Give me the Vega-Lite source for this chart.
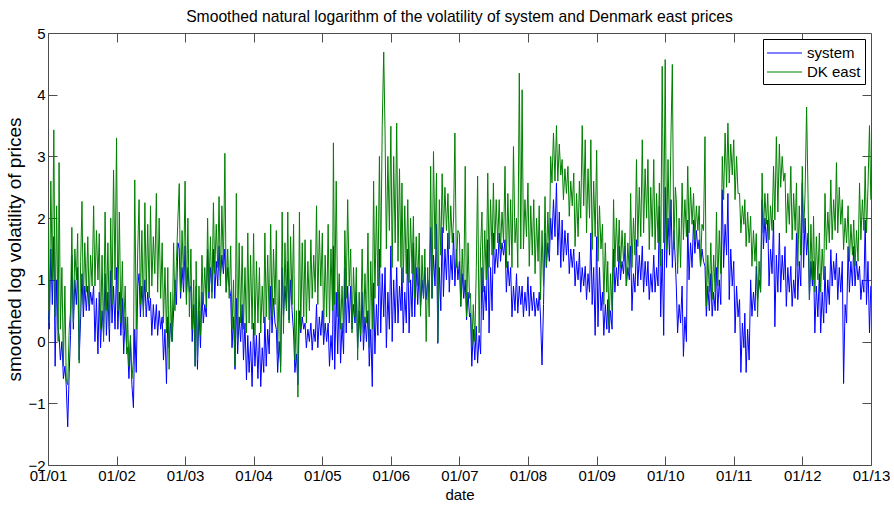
{
"$schema": "https://vega.github.io/schema/vega-lite/v6.json",
"width": 823,
"height": 432,
"autosize": {"type": "none"},
"padding": {"left": 48, "top": 33, "right": 23, "bottom": 40},
"background": "white",
"config": {
  "font": "Liberation Sans",
  "view": {"stroke": "#4d4d4d", "strokeWidth": 1},
  "axis": {"grid": false, "domain": false, "labelFont": "Liberation Sans", "labelFontSize": 15, "labelColor": "black", "tickColor": "#4d4d4d", "tickWidth": 1, "titleFont": "Liberation Sans", "titleFontWeight": "normal", "titleColor": "black"},
  "legend": {"orient": "top-right", "offset": 6, "padding": 4, "strokeColor": "black", "fillColor": "white", "cornerRadius": 0, "labelFont": "Liberation Sans", "labelFontSize": 15, "labelColor": "black", "symbolType": "M-1,-0.06H2.5V0.06H-1Z", "symbolSize": 400, "symbolStrokeWidth": 0, "rowPadding": 1, "labelOffset": 20}
},
"title": {"text": "Smoothed natural logarithm of the volatility of system and Denmark east prices", "font": "Liberation Sans", "fontSize": 15.7, "fontWeight": "normal", "color": "black", "anchor": "middle", "offset": 0},
"data": {"values": [
{"t":"2001-01-01","s":0.5,"e":1.9},{"t":"2001-01-08","s":0.2,"e":0.3},{"t":"2001-01-16","s":1.5,"e":2.6},{"t":"2001-01-24","s":0.6,"e":1.0},
{"t":"2001-02-01","s":1.7,"e":3.43},{"t":"2001-02-08","s":-0.4,"e":0.4},{"t":"2001-02-16","s":1.0,"e":2.2},{"t":"2001-02-24","s":0.2,"e":0.0},
{"t":"2001-03-01","s":0.1,"e":2.9},{"t":"2001-03-08","s":-0.3,"e":0.2},{"t":"2001-03-16","s":0.0,"e":1.2},{"t":"2001-03-24","s":-0.6,"e":-0.4},
{"t":"2001-04-01","s":-0.4,"e":0.9},{"t":"2001-04-08","s":-0.7,"e":-0.6},{"t":"2001-04-16","s":-1.38,"e":-0.7},{"t":"2001-04-24","s":-0.5,"e":0.2},
{"t":"2001-05-01","s":0.1,"e":0.5},{"t":"2001-05-08","s":1.4,"e":1.85},{"t":"2001-05-16","s":0.2,"e":0.3},{"t":"2001-05-24","s":1.0,"e":1.5},
{"t":"2001-06-01","s":0.6,"e":1.0},{"t":"2001-06-08","s":1.2,"e":1.75},{"t":"2001-06-16","s":-0.3,"e":-0.35},{"t":"2001-06-24","s":0.4,"e":1.3},
{"t":"2001-07-01","s":1.1,"e":2.27},{"t":"2001-07-08","s":0.4,"e":0.6},{"t":"2001-07-16","s":0.9,"e":1.6},{"t":"2001-07-24","s":0.5,"e":0.8},
{"t":"2001-08-01","s":0.9,"e":1.7},{"t":"2001-08-08","s":0.5,"e":0.6},{"t":"2001-08-16","s":0.8,"e":1.4},{"t":"2001-08-24","s":0.6,"e":0.9},
{"t":"2001-09-01","s":0.9,"e":2.2},{"t":"2001-09-08","s":0.0,"e":0.9},{"t":"2001-09-16","s":0.7,"e":1.8},{"t":"2001-09-24","s":-0.2,"e":1.0},
{"t":"2001-10-01","s":0.8,"e":1.75},{"t":"2001-10-08","s":-0.1,"e":0.2},{"t":"2001-10-16","s":0.5,"e":1.4},{"t":"2001-10-24","s":0.1,"e":0.0},
{"t":"2001-11-01","s":1.1,"e":2.1},{"t":"2001-11-08","s":0.1,"e":0.5},{"t":"2001-11-16","s":0.8,"e":1.6},{"t":"2001-11-24","s":0.0,"e":0.2},
{"t":"2001-12-01","s":1.15,"e":2.0},{"t":"2001-12-08","s":0.3,"e":0.6},{"t":"2001-12-16","s":0.9,"e":2.78},{"t":"2001-12-24","s":0.2,"e":1.0},
{"t":"2002-01-01","s":1.2,"e":3.3},{"t":"2002-01-08","s":0.2,"e":0.5},{"t":"2002-01-16","s":0.8,"e":2.1},{"t":"2002-01-24","s":0.1,"e":0.3},
{"t":"2002-02-01","s":0.7,"e":1.3},{"t":"2002-02-08","s":-0.2,"e":0.2},{"t":"2002-02-16","s":0.4,"e":0.9},{"t":"2002-02-24","s":-0.1,"e":-0.2},
{"t":"2002-03-01","s":-0.1,"e":0.4},{"t":"2002-03-08","s":-0.6,"e":-0.4},{"t":"2002-03-16","s":0.0,"e":0.1},{"t":"2002-03-24","s":-0.7,"e":-0.6},
{"t":"2002-04-01","s":-1.07,"e":-0.3},{"t":"2002-04-08","s":0.2,"e":2.62},{"t":"2002-04-16","s":-0.5,"e":0.2},{"t":"2002-04-24","s":0.9,"e":1.5},
{"t":"2002-05-01","s":1.1,"e":2.3},{"t":"2002-05-08","s":0.4,"e":0.6},{"t":"2002-05-16","s":0.9,"e":1.8},{"t":"2002-05-24","s":0.5,"e":0.4},
{"t":"2002-06-01","s":1.0,"e":2.25},{"t":"2002-06-08","s":0.4,"e":0.8},{"t":"2002-06-16","s":0.8,"e":1.9},{"t":"2002-06-24","s":0.5,"e":0.7},
{"t":"2002-07-01","s":0.7,"e":2.2},{"t":"2002-07-08","s":0.1,"e":0.9},{"t":"2002-07-16","s":0.6,"e":1.7},{"t":"2002-07-24","s":0.2,"e":1.1},
{"t":"2002-08-01","s":0.6,"e":2.4},{"t":"2002-08-08","s":0.1,"e":0.8},{"t":"2002-08-16","s":0.5,"e":2.0},{"t":"2002-08-24","s":0.2,"e":0.7},
{"t":"2002-09-01","s":0.4,"e":1.6},{"t":"2002-09-08","s":-0.3,"e":0.3},{"t":"2002-09-16","s":0.2,"e":1.2},{"t":"2002-09-24","s":-0.68,"e":0.14},
{"t":"2002-10-01","s":0.4,"e":1.2},{"t":"2002-10-08","s":-0.1,"e":-0.45},{"t":"2002-10-16","s":0.3,"e":0.8},{"t":"2002-10-24","s":0.0,"e":0.0},
{"t":"2002-11-01","s":0.5,"e":1.6},{"t":"2002-11-08","s":1.0,"e":0.5},{"t":"2002-11-16","s":0.6,"e":1.3},{"t":"2002-11-24","s":1.6,"e":2.0},
{"t":"2002-12-01","s":1.5,"e":2.56},{"t":"2002-12-08","s":0.7,"e":0.8},{"t":"2002-12-16","s":1.2,"e":1.8},{"t":"2002-12-24","s":0.8,"e":1.0},
{"t":"2003-01-01","s":1.55,"e":2.6},{"t":"2003-01-08","s":0.7,"e":0.6},{"t":"2003-01-16","s":1.2,"e":2.0},{"t":"2003-01-24","s":0.8,"e":0.4},
{"t":"2003-02-01","s":0.9,"e":1.5},{"t":"2003-02-08","s":0.0,"e":0.2},{"t":"2003-02-16","s":0.6,"e":1.0},{"t":"2003-02-24","s":-0.4,"e":-0.4},
{"t":"2003-03-01","s":0.9,"e":1.3},{"t":"2003-03-08","s":-0.45,"e":-0.3},{"t":"2003-03-16","s":0.5,"e":0.9},{"t":"2003-03-24","s":-0.1,"e":0.1},
{"t":"2003-04-01","s":0.8,"e":1.4},{"t":"2003-04-08","s":0.3,"e":0.6},{"t":"2003-04-16","s":0.6,"e":1.2},{"t":"2003-04-24","s":0.4,"e":0.55},
{"t":"2003-05-01","s":1.5,"e":2.0},{"t":"2003-05-08","s":0.7,"e":0.8},{"t":"2003-05-16","s":1.2,"e":1.7},{"t":"2003-05-24","s":0.8,"e":0.7},
{"t":"2003-06-01","s":1.5,"e":2.25},{"t":"2003-06-08","s":0.7,"e":1.1},{"t":"2003-06-16","s":1.3,"e":1.9},{"t":"2003-06-24","s":0.9,"e":1.2},
{"t":"2003-07-01","s":1.55,"e":2.35},{"t":"2003-07-08","s":1.0,"e":0.9},{"t":"2003-07-16","s":1.4,"e":2.2},{"t":"2003-07-24","s":1.1,"e":1.2},
{"t":"2003-08-01","s":1.5,"e":3.05},{"t":"2003-08-08","s":0.8,"e":0.8},{"t":"2003-08-16","s":1.2,"e":1.5},{"t":"2003-08-24","s":0.9,"e":0.7},
{"t":"2003-09-01","s":0.73,"e":1.55},{"t":"2003-09-08","s":-0.1,"e":0.2},{"t":"2003-09-16","s":0.4,"e":1.0},{"t":"2003-09-24","s":-0.45,"e":-0.4},
{"t":"2003-10-01","s":0.7,"e":2.4},{"t":"2003-10-08","s":-0.2,"e":0.0},{"t":"2003-10-16","s":0.4,"e":1.6},{"t":"2003-10-24","s":0.0,"e":0.3},
{"t":"2003-11-01","s":0.6,"e":1.55},{"t":"2003-11-08","s":-0.3,"e":0.2},{"t":"2003-11-16","s":0.3,"e":1.2},{"t":"2003-11-24","s":-0.62,"e":0.14},
{"t":"2003-12-01","s":0.1,"e":1.76},{"t":"2003-12-08","s":-0.5,"e":0.3},{"t":"2003-12-16","s":0.0,"e":1.4},{"t":"2003-12-24","s":-0.73,"e":0.2},
{"t":"2004-01-01","s":0.3,"e":1.75},{"t":"2004-01-08","s":-0.4,"e":0.1},{"t":"2004-01-16","s":0.1,"e":1.3},{"t":"2004-01-24","s":-0.6,"e":0.3},
{"t":"2004-02-01","s":0.14,"e":1.2},{"t":"2004-02-08","s":-0.73,"e":0.14},{"t":"2004-02-16","s":-0.1,"e":0.9},{"t":"2004-02-24","s":-0.5,"e":0.3},
{"t":"2004-03-01","s":0.4,"e":1.76},{"t":"2004-03-08","s":-0.4,"e":0.4},{"t":"2004-03-16","s":0.2,"e":1.4},{"t":"2004-03-24","s":-0.2,"e":0.35},
{"t":"2004-04-01","s":0.9,"e":1.9},{"t":"2004-04-08","s":0.14,"e":0.4},{"t":"2004-04-16","s":0.7,"e":1.5},{"t":"2004-04-24","s":0.3,"e":0.6},
{"t":"2004-05-01","s":0.2,"e":1.8},{"t":"2004-05-08","s":-0.5,"e":-0.2},{"t":"2004-05-16","s":0.0,"e":1.0},{"t":"2004-05-24","s":-0.4,"e":-0.5},
{"t":"2004-06-01","s":1.2,"e":2.1},{"t":"2004-06-08","s":0.4,"e":0.13},{"t":"2004-06-16","s":0.9,"e":1.6},{"t":"2004-06-24","s":0.5,"e":0.5},
{"t":"2004-07-01","s":1.3,"e":2.1},{"t":"2004-07-08","s":0.35,"e":0.3},{"t":"2004-07-16","s":1.0,"e":1.7},{"t":"2004-07-24","s":0.5,"e":0.6},
{"t":"2004-08-01","s":0.14,"e":1.9},{"t":"2004-08-08","s":-0.5,"e":-0.3},{"t":"2004-08-16","s":-0.2,"e":0.5},{"t":"2004-08-24","s":-0.7,"e":-0.9},
{"t":"2004-09-01","s":0.5,"e":2.1},{"t":"2004-09-08","s":0.14,"e":0.2},{"t":"2004-09-16","s":0.4,"e":1.6},{"t":"2004-09-24","s":0.2,"e":0.4},
{"t":"2004-10-01","s":0.3,"e":1.65},{"t":"2004-10-08","s":-0.1,"e":0.3},{"t":"2004-10-16","s":0.2,"e":1.3},{"t":"2004-10-24","s":0.0,"e":0.5},
{"t":"2004-11-01","s":0.3,"e":1.65},{"t":"2004-11-08","s":-0.14,"e":0.7},{"t":"2004-11-16","s":0.2,"e":1.4},{"t":"2004-11-24","s":0.0,"e":0.8},
{"t":"2004-12-01","s":0.6,"e":2.2},{"t":"2004-12-08","s":-0.1,"e":0.6},{"t":"2004-12-16","s":0.4,"e":1.8},{"t":"2004-12-24","s":0.1,"e":0.9},
{"t":"2005-01-01","s":0.5,"e":1.76},{"t":"2005-01-08","s":-0.05,"e":0.14},{"t":"2005-01-16","s":0.3,"e":1.4},{"t":"2005-01-24","s":0.0,"e":0.4},
{"t":"2005-02-01","s":0.3,"e":1.9},{"t":"2005-02-08","s":-0.4,"e":0.3},{"t":"2005-02-16","s":0.1,"e":1.5},{"t":"2005-02-24","s":-0.3,"e":0.5},
{"t":"2005-03-01","s":1.55,"e":3.22},{"t":"2005-03-08","s":-0.45,"e":0.6},{"t":"2005-03-16","s":0.8,"e":2.6},{"t":"2005-03-24","s":-0.2,"e":0.4},
{"t":"2005-04-01","s":0.8,"e":1.1},{"t":"2005-04-08","s":-0.35,"e":0.2},{"t":"2005-04-16","s":0.3,"e":0.9},{"t":"2005-04-24","s":-0.2,"e":0.14},
{"t":"2005-05-01","s":1.2,"e":1.8},{"t":"2005-05-08","s":0.14,"e":0.7},{"t":"2005-05-16","s":0.9,"e":2.3},{"t":"2005-05-24","s":0.3,"e":0.9},
{"t":"2005-06-01","s":0.9,"e":1.5},{"t":"2005-06-08","s":0.2,"e":0.14},{"t":"2005-06-16","s":0.6,"e":1.2},{"t":"2005-06-24","s":0.3,"e":0.4},
{"t":"2005-07-01","s":0.8,"e":1.2},{"t":"2005-07-08","s":-0.1,"e":-0.3},{"t":"2005-07-16","s":0.5,"e":0.8},{"t":"2005-07-24","s":0.0,"e":0.1},
{"t":"2005-08-01","s":0.8,"e":1.5},{"t":"2005-08-08","s":-0.14,"e":0.14},{"t":"2005-08-16","s":0.4,"e":1.1},{"t":"2005-08-24","s":0.0,"e":0.3},
{"t":"2005-09-01","s":0.5,"e":1.76},{"t":"2005-09-08","s":-0.4,"e":-0.1},{"t":"2005-09-16","s":0.2,"e":1.3},{"t":"2005-09-24","s":-0.73,"e":0.2},
{"t":"2005-10-01","s":0.95,"e":2.6},{"t":"2005-10-08","s":-0.2,"e":0.7},{"t":"2005-10-16","s":0.6,"e":2.2},{"t":"2005-10-24","s":0.1,"e":0.9},
{"t":"2005-11-01","s":1.5,"e":3.0},{"t":"2005-11-08","s":0.14,"e":1.2},{"t":"2005-11-16","s":1.1,"e":3.5},{"t":"2005-11-24","s":0.4,"e":4.69},
{"t":"2005-12-01","s":1.2,"e":3.38},{"t":"2005-12-08","s":-0.1,"e":1.5},{"t":"2005-12-16","s":0.8,"e":3.0},{"t":"2005-12-24","s":0.2,"e":1.8},
{"t":"2006-01-01","s":1.55,"e":3.49},{"t":"2006-01-08","s":0.0,"e":1.2},{"t":"2006-01-16","s":1.0,"e":3.0},{"t":"2006-01-24","s":0.3,"e":1.6},
{"t":"2006-02-01","s":1.2,"e":3.54},{"t":"2006-02-08","s":0.3,"e":1.3},{"t":"2006-02-16","s":0.9,"e":2.8},{"t":"2006-02-24","s":0.5,"e":1.2},
{"t":"2006-03-01","s":1.2,"e":2.57},{"t":"2006-03-08","s":0.14,"e":0.95},{"t":"2006-03-16","s":0.8,"e":2.2},{"t":"2006-03-24","s":0.3,"e":1.1},
{"t":"2006-04-01","s":1.5,"e":2.3},{"t":"2006-04-08","s":0.14,"e":0.95},{"t":"2006-04-16","s":1.0,"e":2.0},{"t":"2006-04-24","s":0.4,"e":1.1},
{"t":"2006-05-01","s":1.6,"e":2.03},{"t":"2006-05-08","s":0.4,"e":0.7},{"t":"2006-05-16","s":1.2,"e":1.7},{"t":"2006-05-24","s":0.6,"e":0.9},
{"t":"2006-06-01","s":1.2,"e":1.76},{"t":"2006-06-08","s":0.55,"e":0.41},{"t":"2006-06-16","s":1.0,"e":1.4},{"t":"2006-06-24","s":0.7,"e":0.7},
{"t":"2006-07-01","s":1.2,"e":1.5},{"t":"2006-07-08","s":0.68,"e":0.0},{"t":"2006-07-16","s":1.0,"e":1.2},{"t":"2006-07-24","s":0.8,"e":0.4},
{"t":"2006-08-01","s":1.85,"e":2.84},{"t":"2006-08-08","s":0.7,"e":0.7},{"t":"2006-08-16","s":1.4,"e":3.08},{"t":"2006-08-24","s":0.9,"e":1.5},
{"t":"2006-09-01","s":1.9,"e":2.73},{"t":"2006-09-08","s":-0.03,"e":0.0},{"t":"2006-09-16","s":1.2,"e":2.3},{"t":"2006-09-24","s":0.5,"e":1.4},
{"t":"2006-10-01","s":1.85,"e":2.72},{"t":"2006-10-08","s":0.73,"e":1.76},{"t":"2006-10-16","s":1.5,"e":2.5},{"t":"2006-10-24","s":1.0,"e":1.8},
{"t":"2006-11-01","s":1.76,"e":2.4},{"t":"2006-11-08","s":0.8,"e":1.5},{"t":"2006-11-16","s":1.4,"e":2.2},{"t":"2006-11-24","s":1.0,"e":1.6},
{"t":"2006-12-01","s":1.76,"e":2.0},{"t":"2006-12-08","s":0.9,"e":3.38},{"t":"2006-12-16","s":1.5,"e":1.2},{"t":"2006-12-24","s":1.0,"e":1.8},
{"t":"2007-01-01","s":1.3,"e":1.75},{"t":"2007-01-08","s":0.57,"e":0.57},{"t":"2007-01-16","s":1.1,"e":1.5},{"t":"2007-01-24","s":0.7,"e":0.8},
{"t":"2007-02-01","s":1.0,"e":2.84},{"t":"2007-02-08","s":0.35,"e":0.4},{"t":"2007-02-16","s":0.8,"e":1.6},{"t":"2007-02-24","s":0.4,"e":0.7},
{"t":"2007-03-01","s":0.46,"e":0.78},{"t":"2007-03-08","s":-0.4,"e":-0.08},{"t":"2007-03-16","s":0.2,"e":0.6},{"t":"2007-03-24","s":-0.3,"e":0.0},
{"t":"2007-04-01","s":0.25,"e":1.2},{"t":"2007-04-08","s":-0.35,"e":2.68},{"t":"2007-04-16","s":0.1,"e":0.14},{"t":"2007-04-24","s":-0.2,"e":1.5},
{"t":"2007-05-01","s":1.2,"e":2.1},{"t":"2007-05-08","s":0.35,"e":0.8},{"t":"2007-05-16","s":0.9,"e":1.8},{"t":"2007-05-24","s":0.5,"e":1.0},
{"t":"2007-06-01","s":1.65,"e":2.73},{"t":"2007-06-08","s":0.14,"e":1.2},{"t":"2007-06-16","s":1.2,"e":2.3},{"t":"2007-06-24","s":0.5,"e":1.4},
{"t":"2007-07-01","s":1.76,"e":2.57},{"t":"2007-07-08","s":1.1,"e":1.5},{"t":"2007-07-16","s":1.5,"e":2.3},{"t":"2007-07-24","s":1.2,"e":1.6},
{"t":"2007-08-01","s":1.76,"e":2.3},{"t":"2007-08-08","s":1.3,"e":1.5},{"t":"2007-08-16","s":1.6,"e":2.1},{"t":"2007-08-24","s":1.4,"e":1.6},
{"t":"2007-09-01","s":1.65,"e":2.84},{"t":"2007-09-08","s":0.8,"e":1.2},{"t":"2007-09-16","s":1.3,"e":2.4},{"t":"2007-09-24","s":0.9,"e":1.4},
{"t":"2007-10-01","s":1.2,"e":2.3},{"t":"2007-10-08","s":0.4,"e":1.2},{"t":"2007-10-16","s":0.9,"e":3.16},{"t":"2007-10-24","s":0.5,"e":1.6},
{"t":"2007-11-01","s":1.1,"e":2.0},{"t":"2007-11-08","s":0.46,"e":1.2},{"t":"2007-11-16","s":0.9,"e":4.35},{"t":"2007-11-24","s":0.6,"e":1.5},
{"t":"2007-12-01","s":0.9,"e":4.08},{"t":"2007-12-08","s":0.4,"e":1.5},{"t":"2007-12-16","s":0.8,"e":2.3},{"t":"2007-12-24","s":0.5,"e":1.7},
{"t":"2008-01-01","s":1.05,"e":2.57},{"t":"2008-01-08","s":0.41,"e":1.22},{"t":"2008-01-16","s":0.9,"e":2.2},{"t":"2008-01-24","s":0.5,"e":1.4},
{"t":"2008-02-01","s":0.8,"e":2.3},{"t":"2008-02-08","s":0.41,"e":1.1},{"t":"2008-02-16","s":0.7,"e":2.0},{"t":"2008-02-24","s":0.5,"e":1.3},
{"t":"2008-03-01","s":0.8,"e":2.2},{"t":"2008-03-08","s":0.4,"e":0.68},{"t":"2008-03-16","s":-0.38,"e":1.8},{"t":"2008-03-24","s":0.6,"e":0.9},
{"t":"2008-04-01","s":1.76,"e":2.35},{"t":"2008-04-08","s":1.2,"e":1.22},{"t":"2008-04-16","s":1.6,"e":2.1},{"t":"2008-04-24","s":1.3,"e":1.4},
{"t":"2008-05-01","s":2.0,"e":3.0},{"t":"2008-05-08","s":1.65,"e":2.57},{"t":"2008-05-16","s":2.3,"e":3.38},{"t":"2008-05-24","s":1.7,"e":2.6},
{"t":"2008-06-01","s":2.57,"e":3.5},{"t":"2008-06-08","s":1.4,"e":2.6},{"t":"2008-06-16","s":2.1,"e":3.2},{"t":"2008-06-24","s":1.2,"e":2.7},
{"t":"2008-07-01","s":1.97,"e":2.95},{"t":"2008-07-08","s":1.3,"e":2.3},{"t":"2008-07-16","s":1.8,"e":2.8},{"t":"2008-07-24","s":1.4,"e":2.4},
{"t":"2008-08-01","s":1.76,"e":2.84},{"t":"2008-08-08","s":1.1,"e":2.03},{"t":"2008-08-16","s":1.5,"e":2.6},{"t":"2008-08-24","s":1.2,"e":2.2},
{"t":"2008-09-01","s":1.5,"e":2.73},{"t":"2008-09-08","s":0.9,"e":1.54},{"t":"2008-09-16","s":1.3,"e":2.4},{"t":"2008-09-24","s":1.0,"e":1.7},
{"t":"2008-10-01","s":1.45,"e":2.6},{"t":"2008-10-08","s":0.8,"e":2.0},{"t":"2008-10-16","s":1.2,"e":3.5},{"t":"2008-10-24","s":0.9,"e":2.2},
{"t":"2008-11-01","s":1.22,"e":3.27},{"t":"2008-11-08","s":0.68,"e":1.76},{"t":"2008-11-16","s":1.1,"e":2.8},{"t":"2008-11-24","s":0.8,"e":2.0},
{"t":"2008-12-01","s":1.76,"e":3.27},{"t":"2008-12-08","s":0.6,"e":1.49},{"t":"2008-12-16","s":1.2,"e":2.6},{"t":"2008-12-24","s":0.1,"e":1.7},
{"t":"2009-01-01","s":1.7,"e":3.1},{"t":"2009-01-08","s":0.24,"e":1.3},{"t":"2009-01-16","s":1.2,"e":2.2},{"t":"2009-01-24","s":0.5,"e":1.5},
{"t":"2009-02-01","s":0.8,"e":1.9},{"t":"2009-02-08","s":0.1,"e":0.6},{"t":"2009-02-16","s":0.6,"e":1.6},{"t":"2009-02-24","s":0.2,"e":0.8},
{"t":"2009-03-01","s":0.68,"e":1.3},{"t":"2009-03-08","s":0.14,"e":0.25},{"t":"2009-03-16","s":0.5,"e":1.1},{"t":"2009-03-24","s":0.2,"e":0.5},
{"t":"2009-04-01","s":1.5,"e":2.3},{"t":"2009-04-08","s":0.8,"e":1.2},{"t":"2009-04-16","s":1.2,"e":2.0},{"t":"2009-04-24","s":0.9,"e":1.3},
{"t":"2009-05-01","s":1.55,"e":1.97},{"t":"2009-05-08","s":1.0,"e":1.2},{"t":"2009-05-16","s":1.3,"e":1.8},{"t":"2009-05-24","s":1.1,"e":1.3},
{"t":"2009-06-01","s":1.55,"e":1.76},{"t":"2009-06-08","s":0.9,"e":0.9},{"t":"2009-06-16","s":1.2,"e":1.6},{"t":"2009-06-24","s":1.0,"e":1.1},
{"t":"2009-07-01","s":1.55,"e":2.4},{"t":"2009-07-08","s":0.5,"e":1.2},{"t":"2009-07-16","s":1.1,"e":2.0},{"t":"2009-07-24","s":0.8,"e":1.4},
{"t":"2009-08-01","s":1.65,"e":2.95},{"t":"2009-08-08","s":0.9,"e":1.54},{"t":"2009-08-16","s":1.4,"e":2.5},{"t":"2009-08-24","s":1.0,"e":1.7},
{"t":"2009-09-01","s":1.55,"e":3.27},{"t":"2009-09-08","s":0.8,"e":1.76},{"t":"2009-09-16","s":1.3,"e":2.8},{"t":"2009-09-24","s":0.9,"e":2.0},
{"t":"2009-10-01","s":1.3,"e":2.95},{"t":"2009-10-08","s":0.68,"e":1.49},{"t":"2009-10-16","s":1.1,"e":2.5},{"t":"2009-10-24","s":0.8,"e":1.7},
{"t":"2009-11-01","s":1.4,"e":2.95},{"t":"2009-11-08","s":0.8,"e":1.49},{"t":"2009-11-16","s":1.2,"e":2.4},{"t":"2009-11-24","s":0.9,"e":1.6},
{"t":"2009-12-01","s":2.2,"e":2.57},{"t":"2009-12-08","s":0.4,"e":1.22},{"t":"2009-12-16","s":1.5,"e":4.46},{"t":"2009-12-24","s":0.1,"e":1.6},
{"t":"2010-01-01","s":2.5,"e":4.57},{"t":"2010-01-08","s":1.2,"e":1.49},{"t":"2010-01-16","s":2.0,"e":2.95},{"t":"2010-01-24","s":1.4,"e":1.7},
{"t":"2010-02-01","s":2.3,"e":3.38},{"t":"2010-02-08","s":1.2,"e":4.49},{"t":"2010-02-16","s":1.8,"e":1.49},{"t":"2010-02-24","s":1.3,"e":2.5},
{"t":"2010-03-01","s":0.9,"e":2.3},{"t":"2010-03-08","s":0.14,"e":1.1},{"t":"2010-03-16","s":0.6,"e":2.0},{"t":"2010-03-24","s":0.3,"e":1.2},
{"t":"2010-04-01","s":0.9,"e":2.57},{"t":"2010-04-08","s":-0.24,"e":1.65},{"t":"2010-04-16","s":0.4,"e":2.3},{"t":"2010-04-24","s":0.0,"e":1.7},
{"t":"2010-05-01","s":1.97,"e":2.84},{"t":"2010-05-08","s":1.0,"e":1.76},{"t":"2010-05-16","s":1.6,"e":2.5},{"t":"2010-05-24","s":1.2,"e":1.9},
{"t":"2010-06-01","s":1.97,"e":2.4},{"t":"2010-06-08","s":1.43,"e":1.65},{"t":"2010-06-16","s":1.8,"e":2.2},{"t":"2010-06-24","s":1.5,"e":1.8},
{"t":"2010-07-01","s":1.65,"e":2.2},{"t":"2010-07-08","s":1.22,"e":1.22},{"t":"2010-07-16","s":1.5,"e":1.9},{"t":"2010-07-24","s":1.3,"e":1.8},
{"t":"2010-08-01","s":1.22,"e":3.32},{"t":"2010-08-08","s":0.41,"e":0.57},{"t":"2010-08-16","s":0.9,"e":1.4},{"t":"2010-08-24","s":0.5,"e":0.8},
{"t":"2010-09-01","s":1.1,"e":1.6},{"t":"2010-09-08","s":0.41,"e":0.68},{"t":"2010-09-16","s":0.8,"e":1.4},{"t":"2010-09-24","s":0.5,"e":0.8},
{"t":"2010-10-01","s":1.2,"e":2.1},{"t":"2010-10-08","s":0.5,"e":0.9},{"t":"2010-10-16","s":1.0,"e":1.8},{"t":"2010-10-24","s":0.6,"e":1.1},
{"t":"2010-11-01","s":2.46,"e":3.0},{"t":"2010-11-08","s":1.2,"e":2.3},{"t":"2010-11-16","s":1.9,"e":3.38},{"t":"2010-11-24","s":1.4,"e":2.5},
{"t":"2010-12-01","s":2.4,"e":3.54},{"t":"2010-12-08","s":0.68,"e":2.57},{"t":"2010-12-16","s":1.5,"e":3.2},{"t":"2010-12-24","s":0.9,"e":2.7},
{"t":"2011-01-01","s":1.3,"e":3.27},{"t":"2011-01-08","s":0.14,"e":2.3},{"t":"2011-01-16","s":0.9,"e":3.0},{"t":"2011-01-24","s":0.4,"e":2.4},
{"t":"2011-02-01","s":0.68,"e":2.4},{"t":"2011-02-08","s":-0.5,"e":1.76},{"t":"2011-02-16","s":0.3,"e":2.2},{"t":"2011-02-24","s":-0.1,"e":1.9},
{"t":"2011-03-01","s":0.46,"e":2.3},{"t":"2011-03-08","s":-0.5,"e":1.54},{"t":"2011-03-16","s":0.2,"e":2.1},{"t":"2011-03-24","s":-0.3,"e":1.6},
{"t":"2011-04-01","s":1.0,"e":2.03},{"t":"2011-04-08","s":0.41,"e":1.22},{"t":"2011-04-16","s":0.8,"e":1.8},{"t":"2011-04-24","s":0.5,"e":1.3},
{"t":"2011-05-01","s":1.22,"e":1.75},{"t":"2011-05-08","s":0.68,"e":0.4},{"t":"2011-05-16","s":1.0,"e":1.3},{"t":"2011-05-24","s":0.8,"e":0.8},
{"t":"2011-06-01","s":2.3,"e":2.73},{"t":"2011-06-08","s":1.5,"e":1.76},{"t":"2011-06-16","s":2.0,"e":2.4},{"t":"2011-06-24","s":1.6,"e":1.9},
{"t":"2011-07-01","s":1.97,"e":2.4},{"t":"2011-07-08","s":0.9,"e":1.65},{"t":"2011-07-16","s":1.5,"e":2.2},{"t":"2011-07-24","s":1.1,"e":1.8},
{"t":"2011-08-01","s":1.97,"e":2.84},{"t":"2011-08-08","s":0.24,"e":1.97},{"t":"2011-08-16","s":1.4,"e":3.32},{"t":"2011-08-24","s":0.8,"e":2.1},
{"t":"2011-09-01","s":1.76,"e":3.2},{"t":"2011-09-08","s":0.8,"e":2.5},{"t":"2011-09-16","s":1.4,"e":3.0},{"t":"2011-09-24","s":1.0,"e":2.6},
{"t":"2011-10-01","s":1.54,"e":2.73},{"t":"2011-10-08","s":0.57,"e":1.76},{"t":"2011-10-16","s":1.2,"e":2.4},{"t":"2011-10-24","s":0.8,"e":1.9},
{"t":"2011-11-01","s":1.22,"e":2.84},{"t":"2011-11-08","s":0.57,"e":1.65},{"t":"2011-11-16","s":1.0,"e":2.4},{"t":"2011-11-24","s":0.7,"e":1.8},
{"t":"2011-12-01","s":1.76,"e":2.57},{"t":"2011-12-08","s":0.68,"e":1.22},{"t":"2011-12-16","s":1.3,"e":2.2},{"t":"2011-12-24","s":0.9,"e":1.4},
{"t":"2012-01-01","s":2.57,"e":2.84},{"t":"2012-01-08","s":1.2,"e":1.76},{"t":"2012-01-16","s":2.0,"e":2.4},{"t":"2012-01-24","s":1.4,"e":3.8},
{"t":"2012-02-01","s":1.76,"e":2.3},{"t":"2012-02-08","s":0.68,"e":0.68},{"t":"2012-02-16","s":1.3,"e":1.9},{"t":"2012-02-24","s":0.9,"e":1.0},
{"t":"2012-03-01","s":1.3,"e":2.03},{"t":"2012-03-08","s":0.14,"e":0.8},{"t":"2012-03-16","s":0.9,"e":1.7},{"t":"2012-03-24","s":0.4,"e":1.0},
{"t":"2012-04-01","s":1.1,"e":1.76},{"t":"2012-04-08","s":0.14,"e":0.8},{"t":"2012-04-16","s":0.8,"e":1.5},{"t":"2012-04-24","s":0.3,"e":1.0},
{"t":"2012-05-01","s":1.22,"e":2.4},{"t":"2012-05-08","s":0.46,"e":1.49},{"t":"2012-05-16","s":1.0,"e":2.1},{"t":"2012-05-24","s":0.6,"e":1.6},
{"t":"2012-06-01","s":1.49,"e":2.62},{"t":"2012-06-08","s":0.9,"e":1.65},{"t":"2012-06-16","s":1.3,"e":2.3},{"t":"2012-06-24","s":1.0,"e":1.8},
{"t":"2012-07-01","s":1.43,"e":2.9},{"t":"2012-07-08","s":0.68,"e":1.76},{"t":"2012-07-16","s":1.2,"e":2.5},{"t":"2012-07-24","s":0.8,"e":1.9},
{"t":"2012-08-01","s":1.3,"e":2.3},{"t":"2012-08-08","s":-0.68,"e":1.49},{"t":"2012-08-16","s":0.6,"e":2.0},{"t":"2012-08-24","s":0.3,"e":1.6},
{"t":"2012-09-01","s":1.54,"e":2.2},{"t":"2012-09-08","s":0.8,"e":1.3},{"t":"2012-09-16","s":1.3,"e":1.9},{"t":"2012-09-24","s":0.9,"e":1.4},
{"t":"2012-10-01","s":1.54,"e":1.97},{"t":"2012-10-08","s":0.9,"e":1.22},{"t":"2012-10-16","s":1.3,"e":1.8},{"t":"2012-10-24","s":1.0,"e":1.3},
{"t":"2012-11-01","s":1.22,"e":2.57},{"t":"2012-11-08","s":0.68,"e":1.65},{"t":"2012-11-16","s":1.0,"e":2.3},{"t":"2012-11-24","s":0.8,"e":1.8},
{"t":"2012-12-01","s":1.97,"e":2.84},{"t":"2012-12-08","s":0.6,"e":1.76},{"t":"2012-12-16","s":1.3,"e":2.5},{"t":"2012-12-24","s":0.14,"e":3.5},
{"t":"2012-12-31","s":0.9,"e":2.3}
]},
"layer": [
  {
    "mark": {"type": "line", "strokeWidth": 1, "clip": true},
    "encoding": {
      "x": {"field": "t", "type": "temporal",
        "scale": {"type": "utc", "domain": [{"year": 2001, "month": 1, "date": 1, "utc": true}, {"year": 2013, "month": 1, "date": 1, "utc": true}]},
        "axis": {"orient": "bottom", "format": "%m/%y", "tickSize": -9, "labelPadding": 12, "labelFlush": false, "labelOverlap": false, "labelBound": false,
          "values": [{"year": 2001, "month": 1, "date": 1, "utc": true}, {"year": 2002, "month": 1, "date": 1, "utc": true}, {"year": 2003, "month": 1, "date": 1, "utc": true}, {"year": 2004, "month": 1, "date": 1, "utc": true}, {"year": 2005, "month": 1, "date": 1, "utc": true}, {"year": 2006, "month": 1, "date": 1, "utc": true}, {"year": 2007, "month": 1, "date": 1, "utc": true}, {"year": 2008, "month": 1, "date": 1, "utc": true}, {"year": 2009, "month": 1, "date": 1, "utc": true}, {"year": 2010, "month": 1, "date": 1, "utc": true}, {"year": 2011, "month": 1, "date": 1, "utc": true}, {"year": 2012, "month": 1, "date": 1, "utc": true}, {"year": 2013, "month": 1, "date": 1, "utc": true}],
          "title": "date", "titleFontSize": 15, "titlePadding": 4}},
      "y": {"field": "s", "type": "quantitative",
        "scale": {"domain": [-2, 5], "nice": false, "zero": false},
        "axis": {"orient": "left", "values": [-2, -1, 0, 1, 2, 3, 4, 5], "tickSize": -9, "labelPadding": 12, "title": "smoothed log volatility of prices", "titleFontSize": 19, "titlePadding": 3}},
      "color": {"datum": "system", "type": "nominal", "scale": {"domain": ["system", "DK east"], "range": ["#0000ff", "#008000"]},
        "legend": {"title": null, "symbolFillColor": {"expr": "datum.value === 'system' ? '#0000ff' : '#008000'"}}}
    }
  },
  {
    "mark": {"type": "line", "strokeWidth": 1, "clip": true},
    "encoding": {
      "x": {"field": "t", "type": "temporal", "scale": {"type": "utc", "domain": [{"year": 2001, "month": 1, "date": 1, "utc": true}, {"year": 2013, "month": 1, "date": 1, "utc": true}]}, "axis": null},
      "y": {"field": "e", "type": "quantitative", "scale": {"domain": [-2, 5], "nice": false, "zero": false}, "axis": null},
      "color": {"datum": "DK east", "type": "nominal"}
    }
  },
  {
    "mark": {"type": "point", "opacity": 0},
    "encoding": {
      "x": {"field": "t", "type": "temporal", "scale": {"type": "utc", "domain": [{"year": 2001, "month": 1, "date": 1, "utc": true}, {"year": 2013, "month": 1, "date": 1, "utc": true}]},
        "axis": {"orient": "top", "tickSize": -9, "labels": false, "title": null,
          "values": [{"year": 2002, "month": 1, "date": 1, "utc": true}, {"year": 2003, "month": 1, "date": 1, "utc": true}, {"year": 2004, "month": 1, "date": 1, "utc": true}, {"year": 2005, "month": 1, "date": 1, "utc": true}, {"year": 2006, "month": 1, "date": 1, "utc": true}, {"year": 2007, "month": 1, "date": 1, "utc": true}, {"year": 2008, "month": 1, "date": 1, "utc": true}, {"year": 2009, "month": 1, "date": 1, "utc": true}, {"year": 2010, "month": 1, "date": 1, "utc": true}, {"year": 2011, "month": 1, "date": 1, "utc": true}, {"year": 2012, "month": 1, "date": 1, "utc": true}]}},
      "y": {"field": "e", "type": "quantitative", "scale": {"domain": [-2, 5], "nice": false, "zero": false},
        "axis": {"orient": "right", "values": [-1, 0, 1, 2, 3, 4], "tickSize": -9, "labels": false, "title": null}}
    }
  }
],
"resolve": {"axis": {"x": "independent", "y": "independent"}}
}
